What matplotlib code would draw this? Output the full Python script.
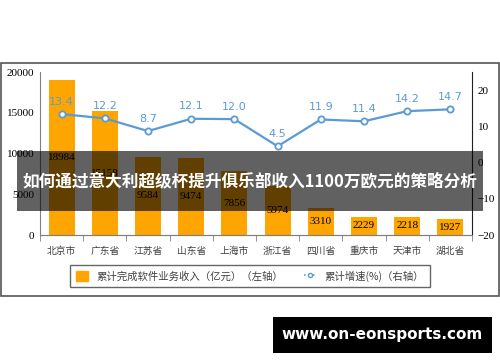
import matplotlib
matplotlib.use('Agg')
import matplotlib.pyplot as plt
from matplotlib.patches import Rectangle
from matplotlib.lines import Line2D
from matplotlib.patches import Patch
import numpy as np

plt.rcParams['font.family'] = ['Noto Sans CJK SC', 'DejaVu Sans']

# data
regions = ['北京市', '广东省', '江苏省', '山东省', '上海市',
           '浙江省', '四川省', '重庆市', '天津市', '湖北省']
revenue = [18984, 15158, 9584, 9474, 7856, 5974, 3310, 2229, 2218, 1927]
growth = [13.4, 12.2, 8.7, 12.1, 12.0, 4.5, 11.9, 11.4, 14.2, 14.7]

title = '如何通过意大利超级杯提升俱乐部收入1100万欧元的策略分析'
site = 'www.on-eonsports.com'

orange = '#FFA500'
blue = '#5B9BD5'
serif = 'Liberation Serif'

fig = plt.figure(figsize=(5, 3.62), dpi=100)
ax = fig.add_axes([0.08, 0.3508, 0.864, 0.4502])
ax2 = ax.twinx()

x = np.arange(len(regions))
bars = ax.bar(x, revenue, width=0.6, color=orange, zorder=2)
ax.bar_label(bars, label_type='center', fontsize=8, fontfamily=serif, color='black')

ax.set_xlim(-0.5, len(regions) - 0.5)
ax.set_ylim(0, 20000)
ax.set_yticks([0, 5000, 10000, 15000, 20000])
ax.tick_params(axis='y', length=0, pad=4, labelsize=8)
for lab in ax.get_yticklabels():
    lab.set_fontfamily(serif)
ax.set_xticks(x)
ax.set_xticklabels(regions, fontsize=7, color='#404040')
ax.set_xticks(np.arange(-0.5, len(regions), 1), minor=True)
ax.tick_params(axis='x', which='major', length=0, pad=8)
ax.tick_params(axis='x', which='minor', length=4, color='#808080')

ax2.plot(x, growth, color=blue, lw=1.6, marker='o', ms=4.5,
         mfc='white', mec=blue, mew=1.3, zorder=3)
for i, v in enumerate(growth):
    ax2.annotate(f'{v}', (i, v), xytext=(0, 9), textcoords='offset points',
                 ha='center', va='center', color=blue, fontsize=8,
                 fontfamily='DejaVu Sans')
ax2.set_ylim(-20, 25)
ax2.set_yticks([-20, -10, 0, 10, 20])
ax2.tick_params(axis='y', length=0, pad=4, labelsize=8)
for lab in ax2.get_yticklabels():
    lab.set_fontfamily(serif)

for a in (ax, ax2):
    a.spines['top'].set_visible(False)
    a.spines['left'].set_color('#808080')
    a.spines['bottom'].set_color('#808080')
    a.spines['right'].set_color('#202020')
ax2.spines['left'].set_visible(False)
ax.spines['right'].set_visible(False)

handles = [Patch(facecolor=orange, edgecolor=orange),
           Line2D([0], [0], color=blue, lw=1.2, ls=':', marker='o', ms=3,
                  mfc='white', mec=blue)]
labels = ['累计完成软件业务收入（亿元）（左轴）', '累计增速(%)（右轴）']
leg = fig.legend(handles, labels, loc='center', bbox_to_anchor=(0.5, 0.2376),
                 ncol=2, fontsize=7.5, frameon=True, fancybox=False,
                 edgecolor='#404040', handlelength=1.2, handleheight=1.0,
                 columnspacing=2.0, borderpad=0.5, labelcolor='#404040')
leg.get_frame().set_linewidth(1.0)

# outer frame
fig.patches.append(Rectangle((0.002, 0.1823), 0.996, 0.6436, fill=False,
                             edgecolor='#555555', lw=1.2,
                             transform=fig.transFigure, zorder=4))

# dark banner over the chart
fig.patches.append(Rectangle((0.034, 0.4171), 0.932, 0.1657,
                             facecolor='black', alpha=0.62, lw=0,
                             transform=fig.transFigure, zorder=5))
fig.text(0.5, 0.5, title, ha='center', va='center', color='white',
         fontsize=12, fontweight='bold', zorder=6)

# site box
fig.patches.append(Rectangle((0.546, 0.0249), 0.438, 0.0994,
                             facecolor='black', lw=0,
                             transform=fig.transFigure, zorder=5))
fig.text(0.765, 0.0746, site, ha='center', va='center', color='white',
         fontsize=11, fontweight='bold', fontfamily='DejaVu Sans', zorder=6)

fig.savefig('out.png', dpi=100)
